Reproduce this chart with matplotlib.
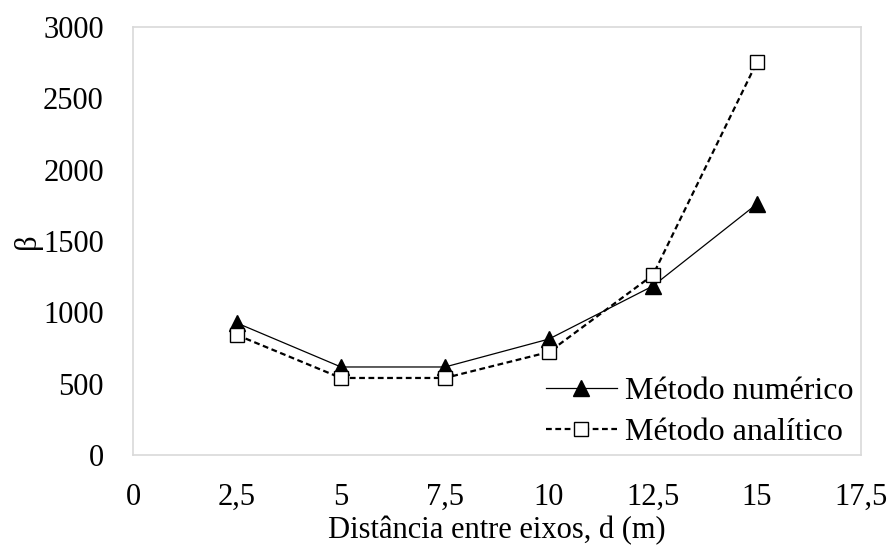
import matplotlib
matplotlib.use("Agg")
import matplotlib.pyplot as plt

# beta versus axle spacing, numeric vs analytic
distancia = [2.5, 5, 7.5, 10, 12.5, 15]
beta_numerico = [925, 617, 617, 813, 1185, 1760]
beta_analitico = [841, 540, 540, 722, 1262, 2755]

x_ticks = [0, 2.5, 5, 7.5, 10, 12.5, 15, 17.5]
x_tick_labels = ["0", "2,5", "5", "7,5", "10", "12,5", "15", "17,5"]
y_ticks = [0, 500, 1000, 1500, 2000, 2500, 3000]

plt.rcParams["font.family"] = ["Liberation Serif", "DejaVu Serif"]
FS = 22

fig = plt.figure(figsize=(8.89, 5.49), dpi=100)
ax = fig.add_axes([0.1496, 0.1712, 0.8189, 0.7796])

ax.plot(distancia, beta_numerico, color="black", linewidth=0.9,
        marker="^", markersize=11, markerfacecolor="black",
        markeredgecolor="black", label="Método numérico")
ax.plot(distancia, beta_analitico, color="black", linewidth=1.6,
        linestyle=(0, (2.6, 1.6)), marker="s", markersize=10.5,
        markerfacecolor="white", markeredgecolor="black",
        markeredgewidth=1.0, label="Método analítico")

ax.set_xlim(0, 17.5)
ax.set_ylim(0, 3000)
ax.set_xticks(x_ticks)
ax.set_xticklabels(x_tick_labels)
ax.set_yticks(y_ticks)
ax.tick_params(axis="x", length=0, labelsize=FS, pad=20)
ax.tick_params(axis="y", length=0, labelsize=FS, pad=21)

for spine in ax.spines.values():
    spine.set_color("#d9d9d9")
    spine.set_linewidth(1.2)

ax.set_xlabel("Distância entre eixos, d (m)", fontsize=FS, labelpad=3)
ax.set_ylabel("β", fontsize=FS, labelpad=1)

ax.legend(loc="lower right", frameon=False, fontsize=23,
          handlelength=2.2, handletextpad=0.25, labelspacing=0.35,
          borderpad=0, borderaxespad=0.25)

fig.savefig("out.png", dpi=100)
